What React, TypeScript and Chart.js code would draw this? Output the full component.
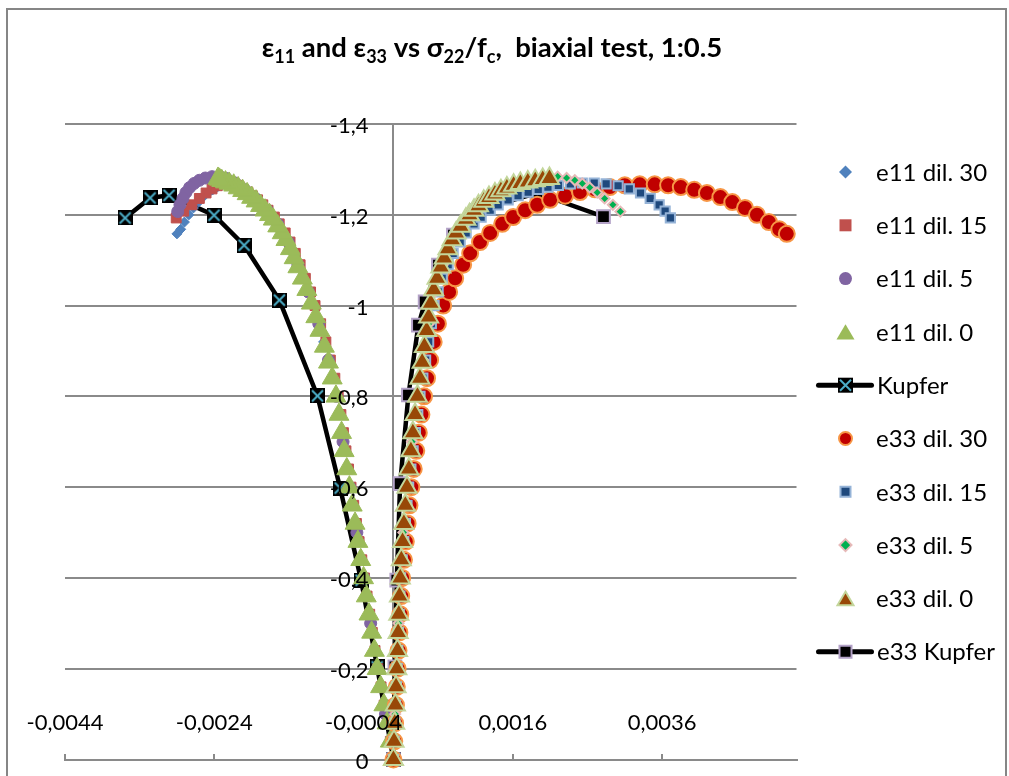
import React, { useEffect, useRef } from 'react';
import { Chart, registerables } from 'chart.js';

Chart.register(...registerables);

const FONT = 'Lato, "Open Sans", "DejaVu Sans", sans-serif';
const GRID = '#8a8a8a';
const STRAIN_UNIT = 1e-4; // strain arrays below are written in units of 1e-4

const X_MIN = -0.0044;
const X_MAX = 0.0054;
const Y_MIN = -1.4;
const Y_MAX = 0;
const xTickValues = [-0.0044, -0.0024, -0.0004, 0.0016, 0.0036];
const xTickLabels = ['-0,0044', '-0,0024', '-0,0004', '0,0016', '0,0036'];
const yTickValues = [-1.4, -1.2, -1, -0.8, -0.6, -0.4, -0.2, 0];
const yTickLabels = ['-1,4', '-1,2', '-1', '-0,8', '-0,6', '-0,4', '-0,2', '0'];

const seriesNames = [
  'e11 dil. 30', 'e11 dil. 15', 'e11 dil. 5', 'e11 dil. 0', 'Kupfer',
  'e33 dil. 30', 'e33 dil. 15', 'e33 dil. 5', 'e33 dil. 0', 'e33 Kupfer',
];

// ---- dilatancy 0 (sigma22/fc shared by e11 and e33) ----
const sigmaDil0 = [0, -0.04, -0.08, -0.12, -0.16, -0.2, -0.24, -0.28, -0.32, -0.36, -0.4, -0.44, -0.48, -0.52, -0.56, -0.6, -0.64, -0.68, -0.72, -0.76, -0.8, -0.84,
  -0.875, -0.91, -0.945, -0.975, -1.005, -1.035, -1.06, -1.085, -1.105, -1.125, -1.145, -1.16, -1.175, -1.19, -1.2, -1.21, -1.22, -1.23, -1.238, -1.246, -1.253, -1.259, -1.265, -1.269, -1.272, -1.275, -1.278, -1.28];
const e11Dil0 = [0, -0.42, -0.85, -1.28, -1.72, -2.18, -2.55, -2.92, -3.28, -3.64, -4.0, -4.38, -4.76, -5.14, -5.52, -5.9, -6.25, -6.6, -6.95, -7.3, -7.7, -8.2,
  -8.7, -9.25, -9.85, -10.4, -11.0, -11.6, -12.2, -12.8, -13.3, -13.8, -14.4, -14.9, -15.5, -16.1, -16.6, -17.2, -17.8, -18.4, -19.0, -19.6, -20.2, -20.8, -21.4, -22.0, -22.5, -23.0, -23.3, -23.5];
const e33Dil0 = [0, 0.08, 0.17, 0.26, 0.35, 0.45, 0.54, 0.63, 0.72, 0.81, 0.92, 1.06, 1.22, 1.4, 1.6, 1.82, 2.07, 2.34, 2.6, 2.9, 3.22, 3.55,
  3.85, 4.15, 4.45, 4.72, 5.0, 5.4, 5.85, 6.35, 6.8, 7.3, 7.85, 8.4, 9.0, 9.7, 10.2, 10.8, 11.4, 12.1, 12.8, 13.6, 14.4, 15.2, 16.1, 17.0, 18.0, 19.0, 20.0, 20.9];

// ---- dilatancy 30 ----
const sigmaDil30 = [0, -0.04, -0.08, -0.12, -0.16, -0.2, -0.24, -0.28, -0.32, -0.36, -0.4, -0.44, -0.48, -0.52, -0.56, -0.6, -0.64, -0.68, -0.72, -0.76, -0.8, -0.84,
  -0.88, -0.92, -0.96, -1.0, -1.03, -1.06, -1.09, -1.115, -1.14, -1.16, -1.18, -1.195, -1.21, -1.222, -1.233, -1.242, -1.25, -1.256, -1.261, -1.265, -1.267,
  -1.267, -1.265, -1.261, -1.255, -1.248, -1.239, -1.228, -1.215, -1.2, -1.184, -1.168, -1.158];
const e11Dil30 = [0, -0.41, -0.83, -1.25, -1.68, -2.12, -2.5, -2.87, -3.23, -3.59, -3.95, -4.32, -4.7, -5.08, -5.46, -5.84, -6.2, -6.55, -6.9, -7.25, -7.63, -8.1,
  -8.7, -9.35, -10.05, -10.85, -11.45, -12.15, -12.85, -13.5, -14.15, -14.8, -15.6, -16.3, -17.1, -17.8, -18.5, -19.1, -19.8, -20.4, -20.9, -21.3, -21.8,
  -22.4, -23.0, -23.6, -24.2, -24.8, -25.5, -26.1, -26.8, -27.4, -28.0, -28.5, -29.0];
const e33Dil30 = [0, 0.11, 0.22, 0.34, 0.45, 0.56, 0.68, 0.8, 0.92, 1.04, 1.17, 1.41, 1.66, 1.9, 2.15, 2.4, 2.72, 3.06, 3.4, 3.75, 4.1, 4.5,
  4.92, 5.39, 5.96, 6.66, 7.46, 8.27, 9.34, 10.28, 11.6, 12.96, 14.57, 16.04, 17.65, 19.26, 21.0, 23.0, 25.0, 27.0, 29.0, 31.0, 33.0,
  35.0, 36.8, 38.5, 40.3, 42.0, 43.8, 45.4, 47.1, 48.7, 50.3, 51.7, 52.7];

// ---- dilatancy 15 ----
const sigmaDil15 = [0, -0.04, -0.08, -0.12, -0.16, -0.2, -0.24, -0.28, -0.32, -0.36, -0.4, -0.44, -0.48, -0.52, -0.56, -0.6, -0.64, -0.68, -0.72, -0.76, -0.8, -0.84,
  -0.88, -0.92, -0.96, -1.0, -1.03, -1.06, -1.09, -1.115, -1.14, -1.16, -1.18, -1.195, -1.21, -1.222, -1.233, -1.242, -1.25, -1.256, -1.261, -1.265, -1.268, -1.27,
  -1.27, -1.268, -1.264, -1.257, -1.248, -1.236, -1.222, -1.208, -1.193];
const e11Dil15 = [0, -0.41, -0.82, -1.24, -1.66, -2.1, -2.47, -2.83, -3.18, -3.53, -3.88, -4.24, -4.6, -4.96, -5.32, -5.68, -6.02, -6.36, -6.7, -7.04, -7.4, -7.85,
  -8.45, -9.05, -9.75, -10.5, -11.1, -11.8, -12.5, -13.15, -13.85, -14.5, -15.3, -15.95, -16.8, -17.5, -18.2, -18.9, -19.5, -20.1, -20.6, -21.0, -21.4, -21.7,
  -22.3, -22.9, -23.6, -24.3, -25.1, -26.0, -27.0, -28.1, -29.1];
const e33Dil15 = [0, 0.09, 0.2, 0.29, 0.4, 0.5, 0.59, 0.68, 0.78, 0.87, 0.96, 1.18, 1.39, 1.61, 1.82, 2.04, 2.34, 2.64, 2.95, 3.26, 3.56, 3.94,
  4.31, 4.72, 5.08, 5.45, 5.99, 6.53, 7.33, 8.0, 8.94, 9.74, 10.8, 11.75, 12.96, 14.03, 15.37, 16.7, 18.05, 19.4, 20.7, 22.1, 23.7, 25.3,
  26.9, 28.5, 30.1, 31.6, 33.1, 34.4, 35.6, 36.4, 37.1];

// ---- dilatancy 5 ----
const sigmaDil5 = [0, -0.1, -0.2, -0.3, -0.4, -0.5, -0.6, -0.7, -0.8, -0.88, -0.96, -1.03, -1.09, -1.14, -1.18, -1.21, -1.235, -1.255, -1.27, -1.28, -1.285,
  -1.284, -1.281, -1.276, -1.269, -1.26, -1.249, -1.236, -1.222, -1.207];
const e11Dil5 = [0, -1.06, -2.15, -3.05, -3.95, -4.9, -5.85, -6.75, -7.65, -8.7, -10.0, -11.4, -12.8, -14.1, -15.5, -16.9, -18.4, -19.9, -21.2, -22.4, -23.3,
  -24.3, -25.2, -26.0, -26.7, -27.3, -27.8, -28.2, -28.6, -28.9];
const e33Dil5 = [0, 0.23, 0.46, 0.69, 0.93, 1.33, 1.86, 2.5, 3.3, 4.0, 4.75, 5.55, 6.6, 7.9, 9.4, 11.0, 12.8, 14.8, 16.9, 19.0, 20.8,
  22.0, 23.2, 24.3, 25.3, 26.3, 27.3, 28.3, 29.4, 30.4];

// ---- Kupfer test data ----
const sigmaKupfer = [0, -0.204, -0.395, -0.598, -0.801, -1.012, -1.133, -1.199, -1.243, -1.237, -1.193];
const e11Kupfer = [0, -2.18, -4.33, -7.14, -10.18, -15.28, -20.01, -24.03, -30.06, -32.6, -35.95];
const sigmaKupferE33 = [0, -0.204, -0.395, -0.608, -0.803, -0.957, -1.008, -1.089, -1.155, -1.21, -1.248, -1.196];
const e33Kupfer = [0, 0.2, 0.45, 0.9, 2.01, 3.35, 4.25, 6.03, 8.04, 11.18, 19.22, 28.14];

function pts(xs: number[], ys: number[]) {
  return xs.map((x, i) => ({ x: x * STRAIN_UNIT, y: ys[i] }));
}

function makeXMarker(size: number, fill: string, cross: string) {
  const c = document.createElement('canvas');
  c.width = size;
  c.height = size;
  const g = c.getContext('2d')!;
  g.fillStyle = fill;
  g.fillRect(0, 0, size, size);
  g.strokeStyle = cross;
  g.lineWidth = 2;
  g.beginPath();
  g.moveTo(2, 2);
  g.lineTo(size - 2, size - 2);
  g.moveTo(size - 2, 2);
  g.lineTo(2, size - 2);
  g.stroke();
  return c;
}

type Shape = 'circle' | 'rect' | 'diamond' | 'triangle' | 'kupfer' | 'kupfer33';
const legendStyles: { shape: Shape; size: number; fill: string; stroke: string; lw: number }[] = [
  { shape: 'diamond', size: 13, fill: '#4F81BD', stroke: '#4F81BD', lw: 0 },
  { shape: 'rect', size: 12, fill: '#C0504D', stroke: '#C0504D', lw: 0 },
  { shape: 'circle', size: 13, fill: '#8064A2', stroke: '#8064A2', lw: 0 },
  { shape: 'triangle', size: 18, fill: '#9BBB59', stroke: '#9BBB59', lw: 0 },
  { shape: 'kupfer', size: 15, fill: '#000000', stroke: '#4BACC6', lw: 2 },
  { shape: 'circle', size: 13, fill: '#C00000', stroke: '#F79646', lw: 2 },
  { shape: 'rect', size: 10, fill: '#1F497D', stroke: '#95B3D7', lw: 2 },
  { shape: 'diamond', size: 12, fill: '#00B050', stroke: '#E6B9B8', lw: 2 },
  { shape: 'triangle', size: 16, fill: '#984807', stroke: '#C3D69B', lw: 2 },
  { shape: 'kupfer33', size: 12, fill: '#000000', stroke: '#B3A2C7', lw: 2 },
];

function drawShape(ctx: CanvasRenderingContext2D, s: typeof legendStyles[number], x: number, y: number) {
  const h = s.size / 2;
  if (s.shape === 'kupfer' || s.shape === 'kupfer33') {
    ctx.strokeStyle = '#000';
    ctx.lineWidth = 5;
    ctx.lineCap = 'round';
    ctx.beginPath();
    ctx.moveTo(x - 27, y);
    ctx.lineTo(x + 26, y);
    ctx.stroke();
    ctx.lineCap = 'butt';
  }
  ctx.beginPath();
  if (s.shape === 'circle') ctx.arc(x, y, h, 0, Math.PI * 2);
  else if (s.shape === 'rect' || s.shape === 'kupfer' || s.shape === 'kupfer33') ctx.rect(x - h, y - h, s.size, s.size);
  else if (s.shape === 'diamond') {
    ctx.moveTo(x, y - h); ctx.lineTo(x + h, y); ctx.lineTo(x, y + h); ctx.lineTo(x - h, y); ctx.closePath();
  } else if (s.shape === 'triangle') {
    const th = s.size * 0.85;
    ctx.moveTo(x, y - th / 2); ctx.lineTo(x + h, y + th / 2); ctx.lineTo(x - h, y + th / 2); ctx.closePath();
  }
  ctx.fillStyle = s.fill;
  ctx.fill();
  if (s.shape === 'kupfer') {
    ctx.strokeStyle = s.stroke;
    ctx.lineWidth = 2;
    ctx.beginPath();
    ctx.moveTo(x - h + 2, y - h + 2); ctx.lineTo(x + h - 2, y + h - 2);
    ctx.moveTo(x + h - 2, y - h + 2); ctx.lineTo(x - h + 2, y + h - 2);
    ctx.stroke();
  } else if (s.lw > 0) {
    ctx.strokeStyle = s.stroke;
    ctx.lineWidth = s.lw;
    ctx.stroke();
  }
}

const titleParts: { t: string; sub: boolean }[] = [
  { t: 'ε', sub: false }, { t: '11', sub: true }, { t: ' and ', sub: false },
  { t: 'ε', sub: false }, { t: '33', sub: true }, { t: ' vs ', sub: false },
  { t: 'σ', sub: false }, { t: '22', sub: true }, { t: '/f', sub: false },
  { t: 'c', sub: true }, { t: ',  biaxial test, 1:0.5', sub: false },
];

const framePlugin = {
  id: 'frame',
  beforeDraw(chart: any) {
    const ctx = chart.ctx as CanvasRenderingContext2D;
    ctx.save();
    ctx.fillStyle = '#ffffff';
    ctx.fillRect(0, 0, chart.width, chart.height);
    ctx.strokeStyle = '#868686';
    ctx.lineWidth = 2;
    ctx.strokeRect(7, 9, 999, 820);
    ctx.restore();
  },
  afterDatasetsDraw(chart: any) {
    // value-axis labels sit 25px left of the vertical axis (which crosses at x = 0), drawn over the markers
    const ctx = chart.ctx as CanvasRenderingContext2D;
    const xs = chart.scales.x;
    const ys = chart.scales.y;
    const ax = xs.getPixelForValue(0);
    ctx.save();
    ctx.font = `22px ${FONT}`;
    ctx.fillStyle = '#000';
    ctx.textAlign = 'right';
    ctx.textBaseline = 'middle';
    yTickValues.forEach((v, i) => ctx.fillText(yTickLabels[i], ax - 25, ys.getPixelForValue(v) + 2));
    ctx.restore();
  },
  afterDraw(chart: any) {
    const ctx = chart.ctx as CanvasRenderingContext2D;
    ctx.save();
    const mainFont = `bold 27.5px ${FONT}`;
    const subFont = `bold 18px ${FONT}`;
    let total = 0;
    for (const p of titleParts) {
      ctx.font = p.sub ? subFont : mainFont;
      total += ctx.measureText(p.t).width;
    }
    let x = 492 - total / 2;
    ctx.fillStyle = '#000';
    ctx.textBaseline = 'alphabetic';
    ctx.textAlign = 'left';
    for (const p of titleParts) {
      ctx.font = p.sub ? subFont : mainFont;
      ctx.fillText(p.t, x, p.sub ? 63 : 57);
      x += ctx.measureText(p.t).width;
    }
    ctx.font = `24px ${FONT}`;
    ctx.textBaseline = 'middle';
    seriesNames.forEach((name, i) => {
      const y = 172 + i * 53.3;
      drawShape(ctx, legendStyles[i], 845.5, y);
      ctx.fillStyle = '#000';
      ctx.fillText(name, legendStyles[i].shape.startsWith('kupfer') ? 877 : 876, y + 1);
    });
    ctx.restore();
  },
};

export default function App() {
  const ref = useRef<HTMLCanvasElement>(null);
  useEffect(() => {
    const canvas = ref.current!;
    const kupferMarker = makeXMarker(15, '#000000', '#4BACC6');
    const tickFont = { family: FONT, size: 22 };
    const chart = new Chart(canvas, {
      type: 'scatter',
      data: {
        datasets: [
          { label: seriesNames[0], data: pts(e11Dil30, sigmaDil30), pointStyle: 'rectRot', pointRadius: 5, pointBackgroundColor: '#4F81BD', pointBorderColor: '#4F81BD', pointBorderWidth: 1, order: 20, clip: false },
          { label: seriesNames[1], data: pts(e11Dil15, sigmaDil15), pointStyle: 'rect', pointRadius: 7, pointBackgroundColor: '#C0504D', pointBorderColor: '#C0504D', pointBorderWidth: 1, order: 19, clip: false },
          { label: seriesNames[2], data: pts(e11Dil5, sigmaDil5), pointStyle: 'circle', pointRadius: 6, pointBackgroundColor: '#8064A2', pointBorderColor: '#8064A2', pointBorderWidth: 1, order: 18, clip: false },
          { label: seriesNames[3], data: pts(e11Dil0, sigmaDil0), pointStyle: 'triangle', pointRadius: 11.5, pointBackgroundColor: '#9BBB59', pointBorderColor: '#9BBB59', pointBorderWidth: 1, order: 17, clip: false },
          { label: seriesNames[4], data: pts(e11Kupfer, sigmaKupfer), showLine: true, borderColor: '#000000', borderWidth: 4.5, tension: 0, pointStyle: kupferMarker, pointRadius: 7.5, order: 30, clip: false },
          { label: seriesNames[5], data: pts(e33Dil30, sigmaDil30), pointStyle: 'circle', pointRadius: 8, pointBackgroundColor: '#C00000', pointBorderColor: '#F79646', pointBorderWidth: 2, order: 15, clip: false },
          { label: seriesNames[6], data: pts(e33Dil15, sigmaDil15), pointStyle: 'rect', pointRadius: 6.5, pointBackgroundColor: '#1F497D', pointBorderColor: '#95B3D7', pointBorderWidth: 2, order: 14, clip: false },
          { label: seriesNames[7], data: pts(e33Dil5, sigmaDil5), pointStyle: 'rectRot', pointRadius: 5, pointBackgroundColor: '#00B050', pointBorderColor: '#E6B9B8', pointBorderWidth: 2, order: 13, clip: false },
          { label: seriesNames[8], data: pts(e33Dil0, sigmaDil0), pointStyle: 'triangle', pointRadius: 11, pointBackgroundColor: '#984807', pointBorderColor: '#C3D69B', pointBorderWidth: 2, order: 12, clip: false },
          { label: seriesNames[9], data: pts(e33Kupfer, sigmaKupferE33), showLine: true, borderColor: '#000000', borderWidth: 4.5, tension: 0, pointStyle: 'rect', pointRadius: 9, pointBackgroundColor: '#000000', pointBorderColor: '#B3A2C7', pointBorderWidth: 2, order: 29, clip: false },
        ] as any,
      },
      options: {
        animation: false,
        responsive: false,
        devicePixelRatio: 1,
        layout: { padding: { left: 65, right: 212.5, top: 124, bottom: 16.5 } },
        plugins: { legend: { display: false }, title: { display: false }, tooltip: { enabled: false } },
        scales: {
          x: {
            type: 'linear',
            position: { y: 0 } as any,
            min: X_MIN,
            max: X_MAX,
            afterBuildTicks: (s: any) => { s.ticks = xTickValues.map((v) => ({ value: v })); },
            ticks: { z: 1, autoSkip: false, maxRotation: 0, minRotation: 0, padding: -42.5, color: '#000', font: tickFont, callback: (_v: any, i: number) => xTickLabels[i] },
            grid: { drawOnChartArea: false, drawTicks: true, tickLength: -7, color: GRID, lineWidth: 2 },
            border: { display: true, color: GRID, width: 2 },
          },
          y: {
            type: 'linear',
            position: { x: 0 } as any,
            min: Y_MIN,
            max: Y_MAX,
            reverse: true,
            afterBuildTicks: (s: any) => { s.ticks = yTickValues.map((v) => ({ value: v })); },
            ticks: { display: false },
            grid: { drawOnChartArea: true, drawTicks: true, tickLength: 7, color: GRID, lineWidth: 2 },
            border: { display: true, color: GRID, width: 2 },
          },
        },
      } as any,
      plugins: [framePlugin],
    });
    return () => chart.destroy();
  }, []);
  return (
    <div style={{ position: 'absolute', left: 0, top: 0, width: 1009, height: 776, overflow: 'hidden' }}>
      <canvas ref={ref} width={1009} height={776} style={{ display: 'block' }} />
    </div>
  );
}
